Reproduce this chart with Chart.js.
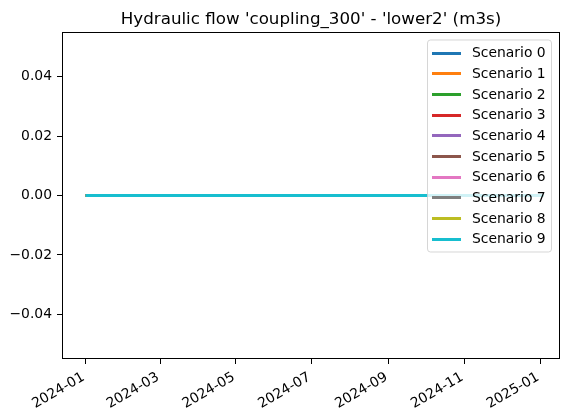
<!DOCTYPE html>
<html>
<head>
<meta charset="utf-8">
<script src="https://cdn.jsdelivr.net/npm/chart.js@4.4.1/dist/chart.umd.min.js"></script>
<style>
  html, body { margin: 0; padding: 0; background: #fff; }
  #chart { display: block; }
</style>
</head>
<body>
<canvas id="chart" width="567" height="419"></canvas>
<script>
const titleText = "Hydraulic flow 'coupling_300' - 'lower2' (m3s)";
const scenarioNames = ['Scenario 0', 'Scenario 1', 'Scenario 2', 'Scenario 3', 'Scenario 4',
  'Scenario 5', 'Scenario 6', 'Scenario 7', 'Scenario 8', 'Scenario 9'];
const scenarioColors = ['#1f77b4', '#ff7f0e', '#2ca02c', '#d62728', '#9467bd',
  '#8c564b', '#e377c2', '#7f7f7f', '#bcbd22', '#17becf'];
const dates = ['2024-01-01', '2025-01-04'];
const scenario0 = [0, 0];
const scenario1 = [0, 0];
const scenario2 = [0, 0];
const scenario3 = [0, 0];
const scenario4 = [0, 0];
const scenario5 = [0, 0];
const scenario6 = [0, 0];
const scenario7 = [0, 0];
const scenario8 = [0, 0];
const scenario9 = [0, 0];
const seriesValues = [scenario0, scenario1, scenario2, scenario3, scenario4,
  scenario5, scenario6, scenario7, scenario8, scenario9];
const xTickLabels = ['2024-01', '2024-03', '2024-05', '2024-07', '2024-09', '2024-11', '2025-01'];
const yTicks = [-0.04, -0.02, 0.00, 0.02, 0.04];
const xMin = '2023-12-13';
const xMax = '2025-01-17';
const yMin = -0.055;
const yMax = 0.055;

const FONT = "'DejaVu Sans', sans-serif";
const LW = 3;
const toMs = s => new Date(s + 'T00:00:00Z').getTime();

// chart.js puts the lowest order on top, so the last scenario gets order 1
const datasets = scenarioNames.map((name, i) => ({
  label: name,
  data: dates.map((d, j) => ({ x: toMs(d), y: seriesValues[i][j] })),
  borderColor: scenarioColors[i],
  backgroundColor: scenarioColors[i],
  borderWidth: LW,
  pointRadius: 0,
  tension: 0,
  order: scenarioNames.length - i
}));

// frame around the plot area, like a matplotlib axes box
const framePlugin = {
  id: 'frame',
  afterDatasetsDraw(chart) {
    const { ctx, chartArea: a } = chart;
    ctx.save();
    ctx.strokeStyle = '#000';
    ctx.lineWidth = 1;
    ctx.strokeRect(a.left + 0.5, a.top + 0.5, a.right - a.left - 1, a.bottom - a.top - 1);
    ctx.restore();
  }
};

const titlePlugin = {
  id: 'mplTitle',
  afterDraw(chart) {
    const { ctx, chartArea: a } = chart;
    ctx.save();
    ctx.fillStyle = '#000';
    ctx.font = '16.7px ' + FONT;
    ctx.textAlign = 'center';
    ctx.textBaseline = 'alphabetic';
    ctx.fillText(titleText, (a.left + a.right) / 2, 24);
    ctx.restore();
  }
};

// legend box in the upper right corner of the axes
const legendPlugin = {
  id: 'mplLegend',
  afterDraw(chart) {
    const { ctx, chartArea: a } = chart;
    const ds = chart.data.datasets;
    const fs = 13.9;
    const rowH = 20.7;
    const boxW = 124, boxH = 212;
    const x0 = a.right - 9 - boxW;
    const y0 = a.top + 7.5;
    ctx.save();
    ctx.beginPath();
    ctx.roundRect(x0 + 0.5, y0 + 0.5, boxW, boxH, 3);
    ctx.fillStyle = 'rgba(255,255,255,0.8)';
    ctx.fill();
    ctx.strokeStyle = 'rgba(204,204,204,0.8)';
    ctx.lineWidth = 1;
    ctx.stroke();
    ctx.font = fs + 'px ' + FONT;
    ctx.textBaseline = 'middle';
    ctx.textAlign = 'left';
    ds.forEach((d, i) => {
      const cy = y0 + 13 + i * rowH;
      const ly = Math.round(cy) + 0.5;
      ctx.strokeStyle = d.borderColor;
      ctx.lineWidth = LW;
      ctx.beginPath();
      ctx.moveTo(x0 + 5, ly);
      ctx.lineTo(x0 + 34, ly);
      ctx.stroke();
      ctx.fillStyle = '#000';
      ctx.fillText(d.label, x0 + 45, cy + 1);
    });
    ctx.restore();
  }
};

new Chart(document.getElementById('chart'), {
  type: 'line',
  data: { datasets },
  options: {
    responsive: false,
    animation: false,
    layout: { padding: { top: 32, right: 7, left: 0, bottom: 0 } },
    plugins: {
      legend: { display: false },
      title: { display: false },
      tooltip: { enabled: false }
    },
    scales: {
      x: {
        type: 'linear',
        min: toMs(xMin),
        max: toMs(xMax),
        afterBuildTicks(scale) {
          scale.ticks = xTickLabels.map(l => ({ value: toMs(l + '-01') }));
        },
        afterFit(scale) { scale.height = 60; },
        grid: {
          display: true,
          drawOnChartArea: false,
          drawTicks: true,
          tickLength: 5,
          tickColor: '#000',
          tickWidth: 1
        },
        border: { display: false },
        ticks: {
          color: '#000',
          font: { family: FONT, size: 13.9 },
          padding: 5,
          labelOffset: -2,
          minRotation: 30,
          maxRotation: 30,
          autoSkip: false,
          callback: v => new Date(v).toISOString().slice(0, 7)
        }
      },
      y: {
        type: 'linear',
        min: yMin,
        max: yMax,
        afterBuildTicks(scale) {
          scale.ticks = yTicks.map(v => ({ value: v }));
        },
        afterFit(scale) { scale.width = 62; },
        grid: {
          display: true,
          drawOnChartArea: false,
          drawTicks: true,
          tickLength: 5,
          tickColor: '#000',
          tickWidth: 1
        },
        border: { display: false },
        ticks: {
          color: '#000',
          font: { family: FONT, size: 13.9 },
          padding: 5,
          callback: v => v.toFixed(2).replace('-', '\u2212')
        }
      }
    }
  },
  plugins: [framePlugin, titlePlugin, legendPlugin]
});
</script>
</body>
</html>
